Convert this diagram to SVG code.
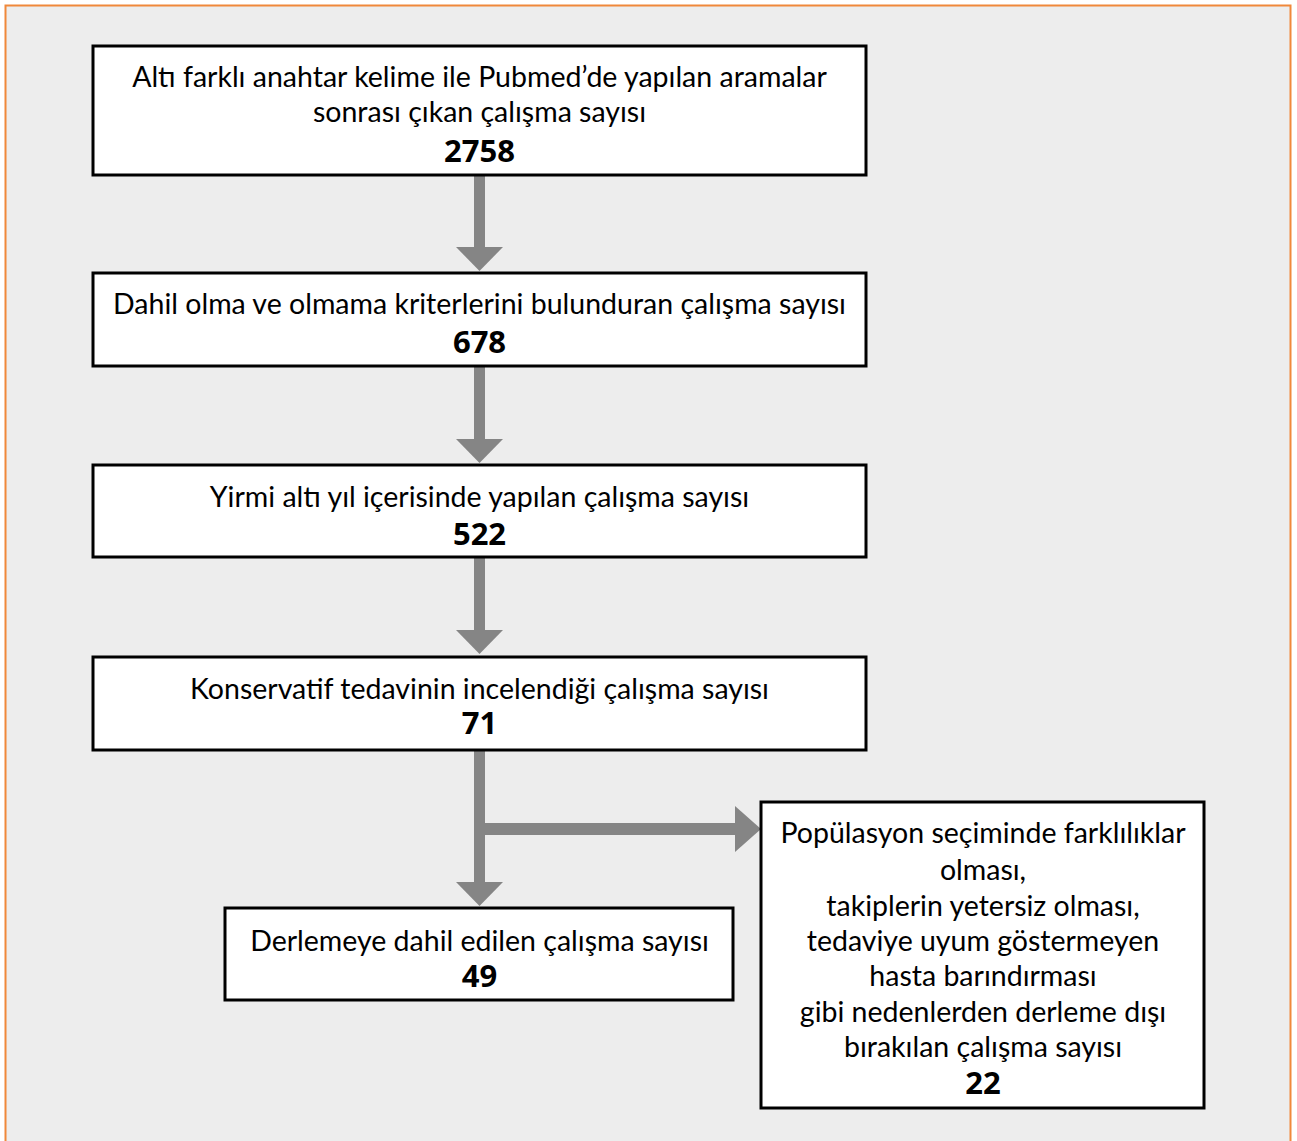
<svg xmlns="http://www.w3.org/2000/svg" width="1297" height="1141" viewBox="0 0 1297 1141">
<style>
.bg{fill:#EDEDED;stroke:#F0883A;stroke-width:2}
.box{fill:#fff;stroke:#000;stroke-width:3}
.t{font-family:Lato,"Open Sans",sans-serif;font-size:28.5px;fill:#000;text-anchor:middle;dominant-baseline:central}
.n{font-family:"Open Sans",Lato,sans-serif;font-weight:bold;font-size:31px;fill:#000;text-anchor:middle;dominant-baseline:central}
.conn{fill:#858585}
</style>
<rect class="bg" x="5.5" y="5.5" width="1285" height="1150"/>
<g id="connectors">
<rect class="conn" x="474" y="176" width="11" height="72"/>
<polygon class="conn" points="456,247 503,247 479.5,271"/>
<rect class="conn" x="474" y="367" width="11" height="73"/>
<polygon class="conn" points="456,439 503,439 479.5,463"/>
<rect class="conn" x="474" y="558" width="11" height="73"/>
<polygon class="conn" points="456,630 503,630 479.5,654"/>
<rect class="conn" x="474" y="751" width="11" height="132"/>
<polygon class="conn" points="456,882 503,882 479.5,906"/>
<rect class="conn" x="485" y="823" width="251" height="12"/>
<polygon class="conn" points="735,806 735,852 761,829"/>
</g>
<g id="node1">
<rect class="box" x="93" y="46" width="773" height="129"/>
<text class="t" x="479.5" y="76">Altı farklı anahtar kelime ile Pubmed’de yapılan aramalar</text>
<text class="t" x="479.5" y="111">sonrası çıkan çalışma sayısı</text>
<text class="n" x="479.5" y="150">2758</text>
</g>
<g id="node2">
<rect class="box" x="93" y="273" width="773" height="93"/>
<text class="t" x="479.5" y="303">Dahil olma ve olmama kriterlerini bulunduran çalışma sayısı</text>
<text class="n" x="479.5" y="341">678</text>
</g>
<g id="node3">
<rect class="box" x="93" y="465" width="773" height="92"/>
<text class="t" x="479.5" y="496">Yirmi altı yıl içerisinde yapılan çalışma sayısı</text>
<text class="n" x="479.5" y="533">522</text>
</g>
<g id="node4">
<rect class="box" x="93" y="657" width="773" height="93"/>
<text class="t" x="479.5" y="688">Konservatif tedavinin incelendiği çalışma sayısı</text>
<text class="n" x="479.5" y="722">71</text>
</g>
<g id="node5">
<rect class="box" x="225" y="908" width="508" height="92"/>
<text class="t" x="479.5" y="940">Derlemeye dahil edilen çalışma sayısı</text>
<text class="n" x="479.5" y="975">49</text>
</g>
<g id="node6">
<rect class="box" x="761" y="802" width="443" height="306"/>
<text class="t" x="983" y="832">Popülasyon seçiminde farklılıklar</text>
<text class="t" x="983" y="869">olması,</text>
<text class="t" x="983" y="905">takiplerin yetersiz olması,</text>
<text class="t" x="983" y="940">tedaviye uyum göstermeyen</text>
<text class="t" x="983" y="975">hasta barındırması</text>
<text class="t" x="983" y="1011">gibi nedenlerden derleme dışı</text>
<text class="t" x="983" y="1046">bırakılan çalışma sayısı</text>
<text class="n" x="983" y="1082">22</text>
</g>
</svg>
